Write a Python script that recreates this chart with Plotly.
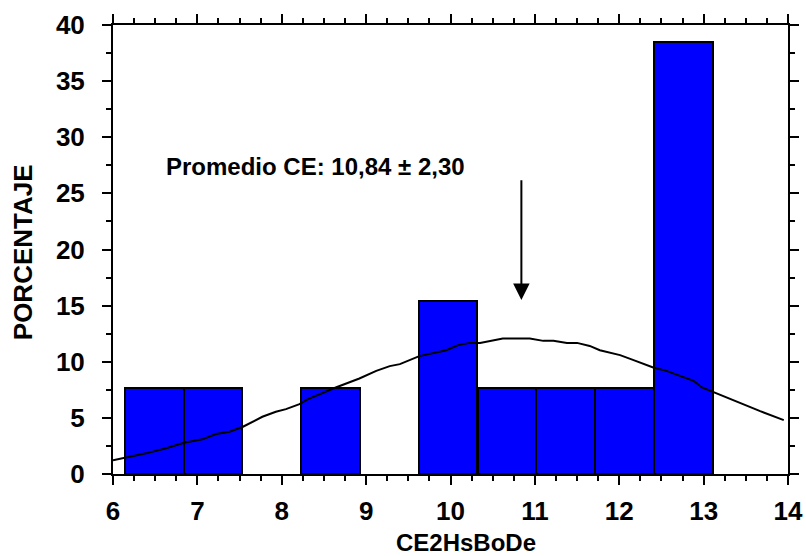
import plotly.graph_objects as go

# ---- data ----
bin_centers = [6.49, 7.185, 7.88, 8.58, 9.275, 9.97, 10.67, 11.365, 12.06, 12.76]
bin_width = 0.697
percent = [7.69, 7.69, 0, 7.69, 0, 15.38, 7.69, 7.69, 7.69, 38.46]

curve_x = [6.00, 6.15, 6.39, 6.63, 6.84, 7.06, 7.22, 7.38, 7.54, 7.77, 7.93, 8.05,
           8.21, 8.31, 8.64, 8.92, 9.12, 9.28, 9.40, 9.63, 9.95, 10.09, 10.23, 10.35,
           10.62, 10.94, 11.10, 11.22, 11.38, 11.50, 11.65, 11.77, 12.01, 12.17, 12.41,
           12.56, 12.72, 12.88, 12.98, 13.12, 13.36, 13.67, 13.95]
curve_y = [1.22, 1.45, 1.84, 2.29, 2.78, 3.09, 3.56, 3.76, 4.21, 5.10, 5.54, 5.78,
           6.23, 6.67, 7.71, 8.51, 9.19, 9.61, 9.79, 10.50, 11.03, 11.48, 11.68, 11.68,
           12.07, 12.07, 11.86, 11.86, 11.68, 11.68, 11.41, 11.03, 10.59, 10.14, 9.46,
           9.19, 8.72, 8.30, 7.71, 7.27, 6.52, 5.60, 4.80]

mean_ce = 10.84
sd_ce = 2.30
arrow_top = 26.3
arrow_tip = 15.5
label_x = 8.40
label_y = 27.4

x_ticks = [6, 7, 8, 9, 10, 11, 12, 13, 14]
y_ticks = [0, 5, 10, 15, 20, 25, 30, 35, 40]

FONT = "Liberation Sans, Arial, Helvetica, sans-serif"

# only non-empty bins get a drawn bar
bar_x = [c for c, p in zip(bin_centers, percent) if p > 0]
bar_y = [p for p in percent if p > 0]

fig = go.Figure()
fig.add_trace(go.Bar(
    x=bar_x, y=bar_y, width=bin_width,
    marker=dict(color="#0000FF", line=dict(color="black", width=2)),
    showlegend=False, hoverinfo="skip",
))
fig.add_trace(go.Scatter(
    x=curve_x, y=curve_y, mode="lines",
    line=dict(color="black", width=2),
    showlegend=False, hoverinfo="skip",
))

axis_common = dict(
    showgrid=False, zeroline=False, automargin=False,
    showline=True, linecolor="black", linewidth=2,
    mirror="allticks", ticks="outside", ticklen=9, tickwidth=2, tickcolor="black",
    tickfont=dict(family=FONT, size=26, color="black", weight="bold"),
)

fig.update_xaxes(range=[6, 14], tickvals=x_ticks, ticktext=[str(v) for v in x_ticks],
                 minor=dict(ticks="outside", ticklen=5, tickwidth=2, dtick=0.25,
                            tickcolor="black", showgrid=False),
                 ticklabelstandoff=4, **axis_common)
fig.update_yaxes(range=[0, 40], tickvals=y_ticks, ticktext=[str(v) for v in y_ticks],
                 minor=dict(ticks="outside", ticklen=5, tickwidth=2, dtick=2.5,
                            tickcolor="black", showgrid=False),
                 ticklabelstandoff=12, **axis_common)

fig.add_annotation(
    x=mean_ce, y=arrow_tip, ax=mean_ce, ay=arrow_top,
    xref="x", yref="y", axref="x", ayref="y",
    text="", showarrow=True, arrowhead=2, arrowwidth=2, arrowsize=1.65,
    arrowcolor="black",
)
fig.add_annotation(
    x=label_x, y=label_y, xref="x", yref="y",
    text=f"Promedio CE: {mean_ce:.2f} ± {sd_ce:.2f}".replace(".", ","),
    showarrow=False, xanchor="center", yanchor="middle",
    font=dict(family=FONT, size=24, color="black", weight="bold"),
)
fig.add_annotation(
    x=-0.1333, y=0.494, xref="paper", yref="paper", textangle=-90,
    text="PORCENTAJE", showarrow=False, xanchor="center", yanchor="middle",
    font=dict(family=FONT, size=26, color="black", weight="bold"),
)
fig.add_annotation(
    x=0.523, y=-0.153, xref="paper", yref="paper",
    text="CE2HsBoDe", showarrow=False, xanchor="center", yanchor="middle",
    font=dict(family=FONT, size=24, color="black", weight="bold"),
)

fig.update_layout(
    width=806, height=556,
    margin=dict(l=113, r=18, t=25, b=82),
    plot_bgcolor="white", paper_bgcolor="white",
    bargap=0,
)

fig.write_html("out.html")
